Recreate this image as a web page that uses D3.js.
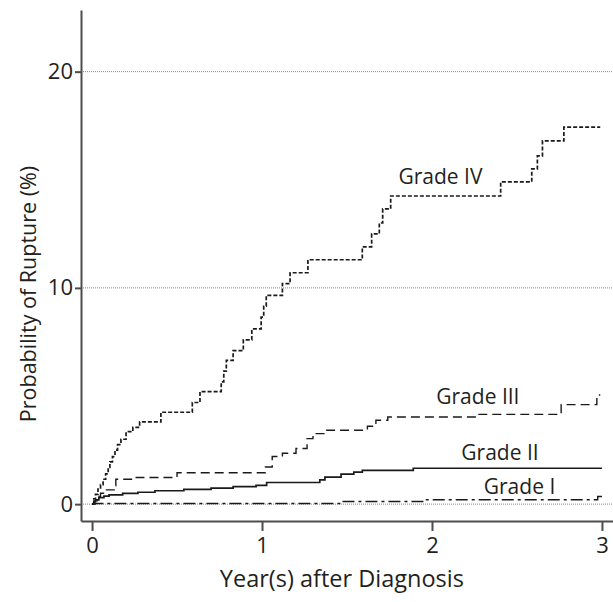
<!DOCTYPE html>
<html>
<head>
<meta charset="utf-8">
<script src="https://cdn.jsdelivr.net/npm/d3@7"></script>
<style>
  body { margin: 0; background: #fff; }
  svg text { font-family: "Open Sans", "Noto Sans", sans-serif; fill: #231f20; }
</style>
</head>
<body>
<div id="chart"></div>
<script>
// cumulative probability of rupture (%) by year, step points [year, pct]
const gradeI = [[0, 0], [0.02, 0.03], [1.465, 0.12], [1.954, 0.2], [2.975, 0.35], [3.0, 0.35]]
const gradeII = [[0, 0], [0.01, 0.1], [0.02, 0.2], [0.04, 0.3], [0.07, 0.37], [0.1, 0.43],
  [0.18, 0.5], [0.27, 0.55], [0.37, 0.62], [0.54, 0.68], [0.7, 0.74], [0.83, 0.81],
  [0.965, 0.87], [1.027, 1.0], [1.34, 1.12], [1.37, 1.25], [1.465, 1.39], [1.54, 1.48],
  [1.59, 1.56], [1.89, 1.66], [3.0, 1.66]]
const gradeIII = [[0, 0], [0.01, 0.15], [0.03, 0.35], [0.05, 0.5], [0.08, 0.66], [0.13, 0.85],
  [0.14, 1.15], [0.26, 1.23], [0.5, 1.45], [1.02, 1.72], [1.06, 2.2], [1.12, 2.35],
  [1.2, 2.57], [1.265, 3.03], [1.3, 3.26], [1.38, 3.42], [1.62, 3.6], [1.67, 3.88],
  [1.74, 4.03], [2.27, 4.15], [2.76, 4.6], [2.97, 5.05], [2.99, 5.05]]
const gradeIV = [[0, 0], [0.01, 0.25], [0.02, 0.45], [0.035, 0.7], [0.05, 0.9], [0.065, 1.15],
  [0.08, 1.4], [0.095, 1.7], [0.105, 1.95], [0.12, 2.2], [0.135, 2.5], [0.15, 2.75],
  [0.17, 3.0], [0.2, 3.35], [0.24, 3.55], [0.28, 3.8], [0.405, 4.25], [0.59, 4.7],
  [0.635, 5.2], [0.76, 5.65], [0.775, 6.15], [0.79, 6.65], [0.83, 7.1], [0.89, 7.6],
  [0.94, 8.1], [0.995, 8.65], [1.01, 9.15], [1.025, 9.65], [1.12, 10.2], [1.165, 10.7],
  [1.27, 11.3], [1.59, 11.9], [1.645, 12.5], [1.69, 13.0], [1.71, 13.65], [1.757, 14.25],
  [2.404, 14.9], [2.587, 15.5], [2.62, 16.1], [2.65, 16.8], [2.776, 17.43], [2.99, 17.43]]

const yTicks = [0, 10, 20]
const xTicks = [0, 1, 2, 3]

// label for each curve, placed at [year, pct]
const curveLabels = [
  { name: 'Grade IV', at: [2.05, 14.8] },
  { name: 'Grade III', at: [2.27, 4.65] },
  { name: 'Grade II', at: [2.4, 2.05] },
  { name: 'Grade I', at: [2.515, 0.48] }
]

const width = 613
const height = 602

const svg = d3.select('#chart').append('svg')
  .attr('width', width)
  .attr('height', height)

const xPositionScale = d3.scaleLinear()
  .domain([-0.065, 3.065])
  .range([81, 613])

const yPositionScale = d3.scaleLinear()
  .domain([-0.78, 22.85])
  .range([521, 10])

// dotted reference lines
svg.selectAll('.grid')
  .data(yTicks)
  .join('line')
  .attr('class', 'grid')
  .attr('x1', xPositionScale(-0.065))
  .attr('x2', xPositionScale(3.065))
  .attr('y1', d => yPositionScale(d))
  .attr('y2', d => yPositionScale(d))
  .attr('stroke', '#8a8a8a')
  .attr('stroke-width', 1)
  .attr('stroke-dasharray', '1,1')

const line = d3.line()
  .x(d => xPositionScale(d[0]))
  .y(d => yPositionScale(d[1]))
  .curve(d3.curveStepAfter)

const curves = [
  { data: gradeI, dash: '12,4,3,4', w: 1.4 },
  { data: gradeII, dash: null, w: 1.7 },
  { data: gradeIII, dash: '9,5', w: 1.4 },
  { data: gradeIV, dash: '4,2', w: 1.7 }
]

svg.selectAll('.curve')
  .data(curves)
  .join('path')
  .attr('class', 'curve')
  .attr('d', d => line(d.data))
  .attr('fill', 'none')
  .attr('stroke', '#1a1a1a')
  .attr('stroke-width', d => d.w)
  .attr('stroke-dasharray', d => d.dash)

svg.selectAll('.curve-label')
  .data(curveLabels)
  .join('text')
  .attr('class', 'curve-label')
  .attr('x', d => xPositionScale(d.at[0]))
  .attr('y', d => yPositionScale(d.at[1]))
  .attr('text-anchor', 'middle')
  .attr('font-size', 21)
  .text(d => d.name)

// axes
const yAxis = d3.axisLeft(yPositionScale)
  .tickValues(yTicks)
  .tickSize(6)
  .tickSizeOuter(0)
  .tickPadding(2)

svg.append('g')
  .attr('class', 'axis y-axis')
  .attr('transform', 'translate(81,0)')
  .call(yAxis)

const xAxis = d3.axisBottom(xPositionScale)
  .tickValues(xTicks)
  .tickFormat(d3.format('d'))
  .tickSize(10)
  .tickSizeOuter(0)
  .tickPadding(6)

svg.append('g')
  .attr('class', 'axis x-axis')
  .attr('transform', 'translate(0,521)')
  .call(xAxis)

svg.selectAll('.axis path, .axis line')
  .attr('stroke', '#4d4d4d')
  .attr('stroke-width', 2)

svg.selectAll('.axis text')
  .attr('font-size', 22)
  .attr('font-family', '"Open Sans", "Noto Sans", sans-serif')
  .attr('fill', '#231f20')

svg.append('text')
  .attr('x', xPositionScale(1.47))
  .attr('y', 587)
  .attr('text-anchor', 'middle')
  .attr('font-size', 23.5)
  .text('Year(s) after Diagnosis')

svg.append('text')
  .attr('transform', 'translate(36,294) rotate(-90)')
  .attr('text-anchor', 'middle')
  .attr('font-size', 21.5)
  .text('Probability of Rupture (%)')
</script>
</body>
</html>
